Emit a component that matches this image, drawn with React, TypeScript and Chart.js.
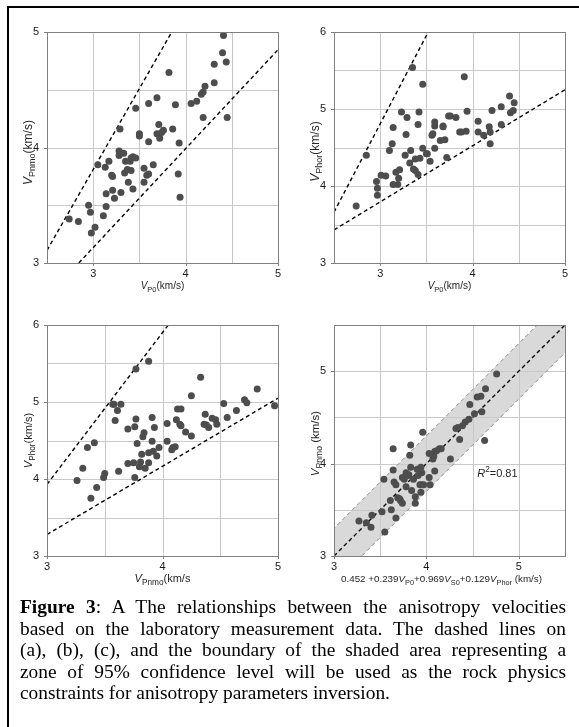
import React, { useEffect, useRef } from 'react';
import { Chart, registerables } from 'chart.js';
Chart.register(...registerables);

// ---------- data ----------
// (a) VP0 vs VPnmo
const aVp0 = [2.74,2.84,2.95,2.97,2.98,3.02,3.05,3.11,3.14,3.14,3.13,3.17,3.20,3.21,3.21,3.23,3.28,3.28,3.29,3.30,3.33,3.34,3.35,3.37,3.38,3.40,3.41,3.41,3.43,3.43,3.46,3.46,3.50,3.50,3.55,3.55,3.58,3.60,3.60,3.60,3.65,3.69,3.69,3.71,3.72,3.74,3.76,3.82,3.86,3.89,3.92,3.93,3.94,4.06,4.12,4.17,4.19,4.19,4.21,4.31,4.31,4.40,4.41,4.44,4.45];
const aVpnmo = [3.38,3.36,3.50,3.44,3.26,3.31,3.85,3.41,3.60,3.49,3.83,3.88,3.76,3.75,3.63,3.56,3.97,3.93,4.16,3.61,3.95,3.78,3.88,3.81,3.70,3.88,3.91,3.80,3.64,3.92,3.91,4.34,4.12,4.10,3.82,3.70,3.76,3.77,4.38,4.05,3.85,4.43,4.12,4.20,4.08,4.13,4.15,4.65,4.16,4.37,3.77,4.04,3.57,4.38,4.40,4.46,4.48,4.26,4.53,4.72,4.56,4.82,4.97,4.74,4.26];
const aUpperX = [2.5, 3.85];
const aUpperY = [3.11, 5.0];
const aLowerX = [2.844, 5.0];
const aLowerY = [3.0, 4.846];

// (b) VP0 vs VPhor
const bVp0 = [2.74,2.85,2.96,2.97,2.97,3.01,3.06,3.10,3.13,3.14,3.14,3.17,3.19,3.20,3.21,3.23,3.27,3.28,3.29,3.32,3.33,3.35,3.36,3.38,3.38,3.41,3.41,3.42,3.43,3.46,3.46,3.50,3.51,3.54,3.56,3.57,3.59,3.59,3.59,3.65,3.68,3.68,3.70,3.72,3.74,3.76,3.82,3.86,3.88,3.91,3.93,3.94,4.06,4.06,4.12,4.18,4.19,4.19,4.21,4.31,4.31,4.40,4.41,4.44,4.45];
const bVphor = [3.74,4.40,4.06,3.97,3.88,4.14,4.13,4.46,4.55,4.76,4.02,4.18,4.02,4.10,4.21,4.96,4.40,4.67,4.89,4.30,4.46,5.54,4.22,4.20,4.35,4.15,4.80,4.96,4.36,5.32,4.49,4.42,4.42,4.32,4.66,4.68,4.83,4.78,4.49,4.59,4.78,4.77,4.60,4.37,4.91,4.91,4.89,4.70,4.70,5.42,4.71,4.97,4.84,4.70,4.66,4.77,4.70,4.55,4.98,5.03,4.80,5.17,4.95,4.98,5.08];
const bUpperX = [2.5, 3.52];
const bUpperY = [3.66, 6.0];
const bLowerX = [2.5, 5.0];
const bLowerY = [3.43, 5.25];

// (c) VPnmo vs VPhor
const cVpnmo = [3.26,3.31,3.35,3.38,3.41,3.43,3.49,3.50,3.57,3.58,3.59,3.61,3.62,3.64,3.70,3.70,3.75,3.76,3.76,3.77,3.77,3.78,3.80,3.81,3.82,3.83,3.84,3.85,3.88,3.88,3.88,3.91,3.91,3.92,3.93,3.95,3.97,4.04,4.04,4.08,4.09,4.11,4.12,4.13,4.16,4.15,4.16,4.20,4.25,4.25,4.33,4.36,4.37,4.38,4.40,4.43,4.46,4.47,4.53,4.56,4.64,4.71,4.73,4.82,4.97];
const cVphor = [3.98,4.14,4.41,3.75,4.47,3.89,4.02,4.07,4.97,4.97,4.76,4.89,4.10,4.97,4.65,4.20,4.21,4.02,4.68,5.43,4.78,4.46,4.16,4.22,4.32,4.55,4.60,4.14,4.21,4.34,5.53,4.80,4.49,4.36,4.67,4.30,4.41,4.72,4.49,4.38,4.41,4.42,4.77,4.91,4.91,4.71,4.69,4.61,5.08,4.56,5.32,4.71,4.84,4.70,4.67,4.79,4.77,4.71,4.98,4.80,4.89,5.03,4.99,5.17,4.95];
const cUpperX = [3.0, 4.05];
const cUpperY = [3.93, 6.0];
const cLowerX = [3.0, 5.0];
const cLowerY = [3.28, 5.05];

// (d) predicted vs measured VPnmo
const dPred = [3.27,3.35,3.40,3.41,3.52,3.55,3.54,3.61,3.62,3.64,3.64,3.65,3.67,3.67,3.69,3.71,3.72,3.74,3.74,3.76,3.78,3.78,3.80,3.81,3.82,3.83,3.83,3.84,3.86,3.88,3.88,3.90,3.91,3.93,3.94,3.94,3.95,3.95,3.96,3.97,4.03,4.03,4.04,4.07,4.08,4.09,4.09,4.11,4.14,4.16,4.26,4.32,4.34,4.36,4.39,4.42,4.46,4.47,4.52,4.55,4.59,4.60,4.64,4.63,4.76];
const dVpnmo = [3.38,3.36,3.31,3.44,3.48,3.26,3.83,3.60,3.50,4.16,3.93,3.80,3.41,3.77,3.63,3.62,3.60,3.57,3.85,3.83,3.75,3.90,3.87,3.88,4.09,4.20,3.96,3.71,3.83,3.64,3.57,3.94,3.87,3.77,3.69,3.96,3.90,3.77,4.34,3.77,3.85,4.11,3.77,4.05,4.08,3.92,4.13,4.14,4.16,4.16,4.05,4.38,4.39,4.26,4.41,4.45,4.48,4.64,4.54,4.72,4.73,4.56,4.81,4.25,4.97];
const dFitX = [3.0, 5.5];
const dFitY = [3.0, 5.5];
const dBandX = [2.5, 6.0];
const dBandUpper = [2.8, 6.3];
const dBandLower = [2.2, 5.7];
const dNoteX = 4.55;
const dNoteY = 3.86;

// ---------- text ----------
type Seg = { t: string; i?: boolean; sub?: boolean; sup?: boolean };
const titleVp0: Seg[] = [{ t: 'V', i: true }, { t: 'P0', sub: true }, { t: '(km/s)' }];
const titleVpnmo: Seg[] = [{ t: 'V', i: true }, { t: 'Pnmo', sub: true }, { t: '(km/s)' }];
const titleVphor: Seg[] = [{ t: 'V', i: true }, { t: 'Phor', sub: true }, { t: '(km/s)' }];
const titleVpnmoC: Seg[] = [{ t: 'V', i: true }, { t: 'Pnmo', sub: true }, { t: '(km/s' }];
const titleVpnmoD: Seg[] = [{ t: 'V', i: true }, { t: 'Pnmo', sub: true }, { t: ' (km/s)' }];
const titlePred: Seg[] = [
  { t: '0.452 +0.239' }, { t: 'V', i: true }, { t: 'P0', sub: true },
  { t: '+0.969' }, { t: 'V', i: true }, { t: 'S0', sub: true },
  { t: '+0.129' }, { t: 'V', i: true }, { t: 'Phor', sub: true }, { t: ' (km/s)' },
];
const noteR2: Seg[] = [{ t: 'R', i: true }, { t: '2', sup: true }, { t: '=0.81' }];

const captionLines = [
  'The relationships between the anisotropy velocities',
  'based on the laboratory measurement data. The dashed lines on',
  '(a), (b), (c), and the boundary of the shaded area representing a',
  'zone of 95% confidence level will be used as the rock physics',
  'constraints for anisotropy parameters inversion.',
];

// ---------- drawing helpers ----------
const SANS = '"Liberation Sans", Arial, sans-serif';

function drawRich(ctx: CanvasRenderingContext2D, segs: Seg[], x: number, y: number, rotate: boolean, align: 'center' | 'left', size: number) {
  ctx.save();
  ctx.translate(x, y);
  if (rotate) ctx.rotate(-Math.PI / 2);
  const fontOf = (s: Seg) => `${s.i ? 'italic ' : ''}${s.sub || s.sup ? size * 0.75 : size}px ${SANS}`;
  let total = 0;
  for (const s of segs) { ctx.font = fontOf(s); total += ctx.measureText(s.t).width; }
  let cx = align === 'center' ? -total / 2 : 0;
  ctx.fillStyle = '#262626';
  ctx.textAlign = 'left';
  ctx.textBaseline = 'alphabetic';
  for (const s of segs) {
    ctx.font = fontOf(s);
    const dy = s.sub ? size * 0.28 : s.sup ? -size * 0.42 : 0;
    ctx.fillText(s.t, cx, dy);
    cx += ctx.measureText(s.t).width;
  }
  ctx.restore();
}

type Line = { x: number[]; y: number[] };
type PanelProps = {
  left: number; top: number;
  xMin: number; xMax: number; yMin: number; yMax: number;
  px: number[]; py: number[];
  lines: Line[];
  band?: { x: number[]; upper: number[]; lower: number[] };
  xTitle: Seg[]; yTitle: Seg[];
  xTitleSize: number; yTitleSize: number; yTitleShift: number; xTitleShift: number;
  note?: { x: number; y: number; segs: Seg[] };
};

const CW = 290, CH = 301;
const GRID = '#c9c9c9';

function Panel(p: PanelProps) {
  const ref = useRef<HTMLCanvasElement>(null);
  useEffect(() => {
    if (!ref.current) return;
    const datasets: any[] = [
      {
        data: p.px.map((v, k) => ({ x: v, y: p.py[k] })),
        pointRadius: 3.5, pointBackgroundColor: '#4d4d4d', pointBorderWidth: 0,
        showLine: false,
      },
    ];
    for (const l of p.lines) {
      datasets.push({
        data: l.x.map((v, k) => ({ x: v, y: l.y[k] })),
        showLine: true, pointRadius: 0, borderColor: '#000', borderWidth: 1.4,
        borderDash: [4, 3], fill: false,
      });
    }
    if (p.band) {
      const b = p.band;
      datasets.push({
        data: b.x.map((v, k) => ({ x: v, y: b.upper[k] })),
        showLine: true, pointRadius: 0, borderColor: '#8c8c8c', borderWidth: 1,
        borderDash: [4, 3], fill: '+1', backgroundColor: '#d9d9d9',
      });
      datasets.push({
        data: b.x.map((v, k) => ({ x: v, y: b.lower[k] })),
        showLine: true, pointRadius: 0, borderColor: '#8c8c8c', borderWidth: 1,
        borderDash: [4, 3], fill: false,
      });
    }
    const isInt = (v: number) => Math.abs(v - Math.round(v)) < 1e-9;
    const tickCb = (v: any) => (isInt(v) ? String(Math.round(v)) : '');
    const gridPlugin = {
      id: 'gridlines',
      beforeDatasetsDraw(chart: any) {
        const { ctx, chartArea: a, scales } = chart;
        ctx.save();
        ctx.lineWidth = 1;
        ctx.strokeStyle = GRID;
        for (const t of scales.x.ticks) {
          const x = Math.round(scales.x.getPixelForValue(t.value)) + 0.5;
          ctx.beginPath(); ctx.moveTo(x, a.top); ctx.lineTo(x, a.bottom); ctx.stroke();
        }
        for (const t of scales.y.ticks) {
          const y = Math.round(scales.y.getPixelForValue(t.value)) + 0.5;
          ctx.beginPath(); ctx.moveTo(a.left, y); ctx.lineTo(a.right, y); ctx.stroke();
        }
        ctx.strokeStyle = '#7f7f7f';
        for (const t of scales.x.ticks) {
          if (!isInt(t.value)) continue;
          const x = Math.round(scales.x.getPixelForValue(t.value)) + 0.5;
          ctx.beginPath(); ctx.moveTo(x, a.bottom); ctx.lineTo(x, a.bottom + 3); ctx.stroke();
        }
        for (const t of scales.y.ticks) {
          if (!isInt(t.value)) continue;
          const y = Math.round(scales.y.getPixelForValue(t.value)) + 0.5;
          ctx.beginPath(); ctx.moveTo(a.left - 3, y); ctx.lineTo(a.left, y); ctx.stroke();
        }
        ctx.restore();
      },
    };
    const overlay = {
      id: 'overlay',
      afterDraw(chart: any) {
        const { ctx, chartArea: a, scales } = chart;
        ctx.save();
        ctx.strokeStyle = '#7f7f7f';
        ctx.lineWidth = 1;
        ctx.strokeRect(Math.round(a.left) + 0.5, Math.round(a.top) + 0.5, Math.round(a.right - a.left), Math.round(a.bottom - a.top));
        ctx.restore();
        drawRich(ctx, p.xTitle, (a.left + a.right) / 2 + p.xTitleShift, a.bottom + 26, false, 'center', p.xTitleSize);
        drawRich(ctx, p.yTitle, a.left - 15, (a.top + a.bottom) / 2 + p.yTitleShift, true, 'center', p.yTitleSize);
        if (p.note) {
          drawRich(ctx, p.note.segs, scales.x.getPixelForValue(p.note.x), scales.y.getPixelForValue(p.note.y), false, 'left', 11);
        }
      },
    };
    const chart = new Chart(ref.current, {
      type: 'scatter',
      data: { datasets },
      plugins: [gridPlugin, overlay],
      options: {
        animation: false,
        responsive: false,
        maintainAspectRatio: false,
        events: [],
        layout: { padding: { left: 0, top: 25, right: 12, bottom: 0 } },
        plugins: {
          legend: { display: false },
          tooltip: { enabled: false },
          filler: { drawTime: 'beforeDatasetsDraw' },
        } as any,
        scales: {
          x: {
            type: 'linear', min: p.xMin, max: p.xMax,
            afterFit: (s: any) => { s.height = 45; },
            border: { display: false },
            grid: { display: false, drawTicks: false, tickLength: 3 },
            ticks: { stepSize: 0.5, autoSkip: false, maxRotation: 0, padding: 4, callback: tickCb, color: '#1a1a1a', font: { family: SANS, size: 11 } },
          },
          y: {
            type: 'linear', min: p.yMin, max: p.yMax,
            afterFit: (s: any) => { s.width = 47; },
            border: { display: false },
            grid: { display: false, drawTicks: false, tickLength: 3 },
            ticks: { stepSize: 0.5, autoSkip: false, padding: 8, callback: tickCb, color: '#1a1a1a', font: { family: SANS, size: 11 } },
          },
        },
      } as any,
    });
    return () => chart.destroy();
  }, []);
  return (
    <canvas
      ref={ref}
      width={CW}
      height={CH}
      style={{ position: 'absolute', left: p.left, top: p.top, width: CW, height: CH }}
    />
  );
}

export default function App() {
  useEffect(() => {
    document.body.style.margin = '0';
  }, []);
  const lineStyle: React.CSSProperties = { textAlign: 'justify', textAlignLast: 'justify' as any, whiteSpace: 'nowrap' };
  return (
    <div style={{ position: 'relative', width: 579, height: 727, background: '#fff', overflow: 'hidden' }}>
      <div style={{ position: 'absolute', left: 7, top: 6, width: 600, height: 760, borderTop: '2px solid #000', borderLeft: '2px solid #000' }} />
      <Panel left={0} top={7} xMin={2.5} xMax={5} yMin={3} yMax={5}
        px={aVp0} py={aVpnmo}
        lines={[{ x: aUpperX, y: aUpperY }, { x: aLowerX, y: aLowerY }]}
        xTitle={titleVp0} yTitle={titleVpnmo}
        xTitleSize={10} yTitleSize={12} yTitleShift={5} xTitleShift={0} />
      <Panel left={287} top={7} xMin={2.5} xMax={5} yMin={3} yMax={6}
        px={bVp0} py={bVphor}
        lines={[{ x: bUpperX, y: bUpperY }, { x: bLowerX, y: bLowerY }]}
        xTitle={titleVp0} yTitle={titleVphor}
        xTitleSize={10} yTitleSize={12} yTitleShift={4} xTitleShift={0} />
      <Panel left={0} top={300} xMin={3} xMax={5} yMin={3} yMax={6}
        px={cVpnmo} py={cVphor}
        lines={[{ x: cUpperX, y: cUpperY }, { x: cLowerX, y: cLowerY }]}
        xTitle={titleVpnmoC} yTitle={titleVphor}
        xTitleSize={11} yTitleSize={11} yTitleShift={0} xTitleShift={0} />
      <Panel left={287} top={300} xMin={3} xMax={5.5} yMin={3} yMax={5.5}
        px={dPred} py={dVpnmo}
        lines={[{ x: dFitX, y: dFitY }]}
        band={{ x: dBandX, upper: dBandUpper, lower: dBandLower }}
        xTitle={titlePred} yTitle={titleVpnmoD}
        xTitleSize={9.8} yTitleSize={11.5} yTitleShift={3} xTitleShift={-8}
        note={{ x: dNoteX, y: dNoteY, segs: noteR2 }} />
      <div style={{ position: 'absolute', left: 20, top: 596, width: 546, fontFamily: '"Liberation Serif", "Times New Roman", serif', fontSize: 19.4, lineHeight: '21.5px', color: '#000' }}>
        <div style={lineStyle}><b>Figure 3</b>: A {captionLines[0]}</div>
        <div style={lineStyle}>{captionLines[1]}</div>
        <div style={lineStyle}>{captionLines[2]}</div>
        <div style={lineStyle}>{captionLines[3]}</div>
        <div style={{ whiteSpace: 'nowrap' }}>{captionLines[4]}</div>
      </div>
    </div>
  );
}
